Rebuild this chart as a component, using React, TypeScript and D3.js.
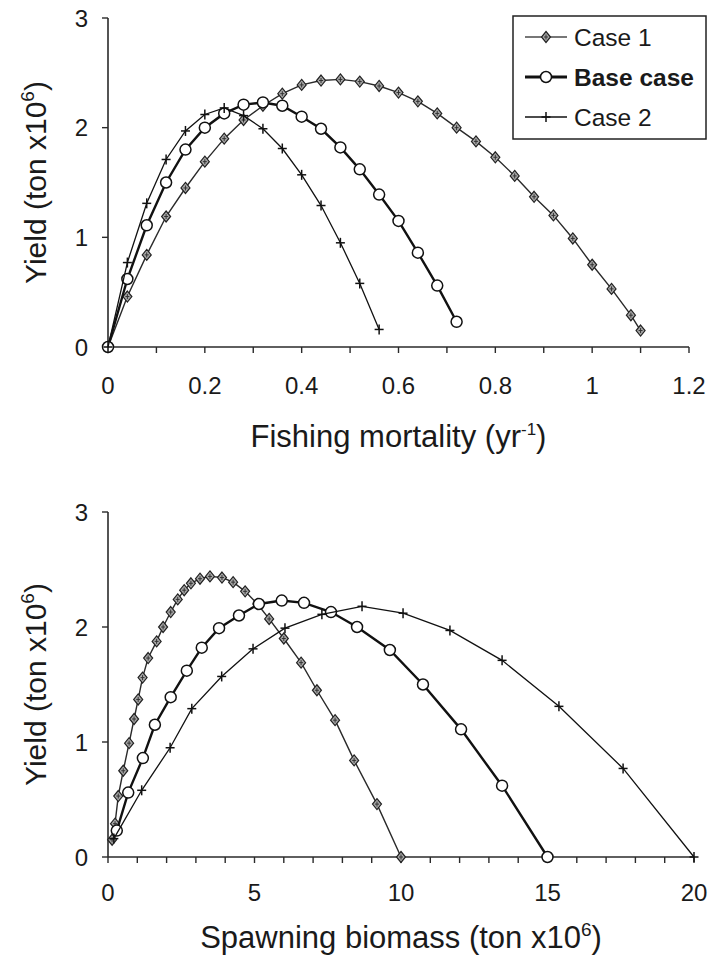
import React from "react";
import * as d3 from "d3";

// ---- Data ----
const fCase1 = [0, 0.04, 0.08, 0.12, 0.16, 0.2, 0.24, 0.28, 0.32, 0.36, 0.4, 0.44, 0.48, 0.52, 0.56, 0.6, 0.64, 0.68, 0.72, 0.76, 0.8, 0.84, 0.88, 0.92, 0.96, 1.0, 1.04, 1.08, 1.1];
const yieldCase1 = [0, 0.46, 0.84, 1.19, 1.45, 1.69, 1.9, 2.07, 2.2, 2.31, 2.39, 2.43, 2.44, 2.42, 2.38, 2.32, 2.24, 2.13, 2.0, 1.875, 1.73, 1.56, 1.37, 1.2, 0.99, 0.75, 0.53, 0.29, 0.15];
const biomassCase1 = [10, 9.18, 8.4, 7.75, 7.13, 6.59, 6.0, 5.5, 5.1, 4.68, 4.27, 3.89, 3.48, 3.14, 2.83, 2.6, 2.38, 2.14, 1.88, 1.66, 1.37, 1.18, 1.03, 0.89, 0.72, 0.52, 0.35, 0.24, 0.14];

const fBase = [0, 0.04, 0.08, 0.12, 0.16, 0.2, 0.24, 0.28, 0.32, 0.36, 0.4, 0.44, 0.48, 0.52, 0.56, 0.6, 0.64, 0.68, 0.72];
const yieldBase = [0, 0.62, 1.11, 1.5, 1.8, 2.0, 2.13, 2.21, 2.23, 2.2, 2.1, 1.99, 1.82, 1.62, 1.39, 1.15, 0.86, 0.56, 0.23];
const biomassBase = [15, 13.45, 12.05, 10.75, 9.62, 8.5, 7.61, 6.69, 5.93, 5.15, 4.47, 3.79, 3.2, 2.69, 2.14, 1.6, 1.19, 0.69, 0.3];

const fCase2 = [0, 0.04, 0.08, 0.12, 0.16, 0.2, 0.24, 0.28, 0.32, 0.36, 0.4, 0.44, 0.48, 0.52, 0.56];
const yieldCase2 = [0, 0.77, 1.31, 1.71, 1.97, 2.12, 2.18, 2.11, 1.99, 1.81, 1.57, 1.29, 0.95, 0.58, 0.16];
const biomassCase2 = [20, 17.58, 15.39, 13.45, 11.67, 10.07, 8.67, 7.3, 6.04, 4.95, 3.88, 2.86, 2.12, 1.15, 0.2];

const seriesNames = ["Case 1", "Base case", "Case 2"];
const yTicks = [0, 1, 2, 3];
const fTickLabels = [0, 0.2, 0.4, 0.6, 0.8, 1, 1.2];
const fMinorTicks = [0, 0.1, 0.2, 0.3, 0.4, 0.5, 0.6, 0.7, 0.8, 0.9, 1.0, 1.1, 1.2];
const bTickLabels = [0, 5, 10, 15, 20];
const bMinorTicks = [0, 1, 2, 3, 4, 5, 6, 7, 8, 9, 10, 11, 12, 13, 14, 15, 16, 17, 18, 19, 20];

const FONT = "'Liberation Sans', Arial, Helvetica, sans-serif";
const TEXT = "#1a1a1a";
const AXIS = "#2a2a2a";

type Kind = "diamond" | "circle" | "plus";

function Marker({ kind, x, y }: { kind: Kind; x: number; y: number }) {
  if (kind === "circle") {
    return <circle cx={x} cy={y} r={5.5} fill="#fff" stroke="#111" strokeWidth={1.5} />;
  }
  if (kind === "plus") {
    return (
      <g stroke="#111" strokeWidth={1.5}>
        <line x1={x - 4.5} y1={y} x2={x + 4.5} y2={y} />
        <line x1={x} y1={y - 5} x2={x} y2={y + 5} />
      </g>
    );
  }
  return (
    <g>
      <path d={`M${x},${y - 5.5}L${x + 4.5},${y}L${x},${y + 5.5}L${x - 4.5},${y}Z`} fill="#a8a8a8" stroke="#222" strokeWidth={1.2} />
      <path d={`M${x - 2},${y}L${x + 2},${y}M${x},${y - 2.5}L${x},${y + 2.5}`} stroke="#333" strokeWidth={1} />
    </g>
  );
}

type Series = { xs: number[]; ys: number[]; kind: Kind; stroke: string; width: number };

function Panel({
  series,
  xScale,
  yScale,
  xLabels,
  xMinor,
  xFmt,
  title,
  titleY,
  tickLabelY,
}: {
  series: Series[];
  xScale: d3.ScaleLinear<number, number>;
  yScale: d3.ScaleLinear<number, number>;
  xLabels: number[];
  xMinor: number[];
  xFmt: (v: number) => string;
  title: React.ReactNode;
  titleY: number;
  tickLabelY: number;
}) {
  const [x0, x1] = xScale.range();
  const [y0, y1] = yScale.range();
  const line = d3
    .line<[number, number]>()
    .x((d) => xScale(d[0]))
    .y((d) => yScale(d[1]));
  const yTitleCenter = (y0 + y1) / 2;
  return (
    <g>
      {/* axes */}
      <line x1={x0} y1={y0} x2={x1} y2={y0} stroke={AXIS} strokeWidth={1.6} />
      <line x1={x0} y1={y0} x2={x0} y2={y1} stroke={AXIS} strokeWidth={1.6} />
      {xMinor.map((v) => (
        <line key={"xm" + v} x1={xScale(v)} x2={xScale(v)} y1={y0} y2={y0 + 6} stroke={AXIS} strokeWidth={1.4} />
      ))}
      {xLabels.map((v) => (
        <text key={"xl" + v} x={xScale(v)} y={tickLabelY} textAnchor="middle" dominantBaseline="central" fontSize={24} fill={TEXT}>
          {xFmt(v)}
        </text>
      ))}
      {yTicks.map((v) => (
        <g key={"yt" + v}>
          <line x1={x0 - 6} x2={x0} y1={yScale(v)} y2={yScale(v)} stroke={AXIS} strokeWidth={1.4} />
          <text x={88} y={yScale(v)} textAnchor="end" dominantBaseline="central" fontSize={24} fill={TEXT}>
            {v}
          </text>
        </g>
      ))}
      {/* y title */}
      <text transform={`translate(46,${yTitleCenter}) rotate(-90)`} textAnchor="middle" fontSize={30} fill={TEXT}>
        Yield (ton x10
        <tspan dy={-12} fontSize={19}>
          6
        </tspan>
        <tspan dy={12}>)</tspan>
      </text>
      {/* x title */}
      <text x={(x0 + x1) / 2} y={titleY} textAnchor="middle" fontSize={31} fill={TEXT}>
        {title}
      </text>
      {/* series */}
      {series.map((s, i) => {
        const pts: [number, number][] = s.xs.map((x, j) => [x, s.ys[j]]);
        return (
          <g key={"s" + i}>
            <path d={line(pts) || ""} fill="none" stroke={s.stroke} strokeWidth={s.width} />
            {pts.map((p, j) => (
              <Marker key={j} kind={s.kind} x={xScale(p[0])} y={yScale(p[1])} />
            ))}
          </g>
        );
      })}
    </g>
  );
}

export default function App() {
  const fScale = d3.scaleLinear().domain([0, 1.2]).range([108, 689]);
  const yTop = d3.scaleLinear().domain([0, 3]).range([347, 18]);
  const bScale = d3.scaleLinear().domain([0, 20]).range([108, 694]);
  const yBot = d3.scaleLinear().domain([0, 3]).range([857, 512]);

  const styles: { kind: Kind; stroke: string; width: number }[] = [
    { kind: "diamond", stroke: "#2a2a2a", width: 1.4 },
    { kind: "circle", stroke: "#111", width: 2.4 },
    { kind: "plus", stroke: "#111", width: 1.3 },
  ];

  const topSeries: Series[] = [
    { xs: fCase1, ys: yieldCase1, ...styles[0] },
    { xs: fBase, ys: yieldBase, ...styles[1] },
    { xs: fCase2, ys: yieldCase2, ...styles[2] },
  ];
  const botSeries: Series[] = [
    { xs: biomassCase1, ys: yieldCase1, ...styles[0] },
    { xs: biomassBase, ys: yieldBase, ...styles[1] },
    { xs: biomassCase2, ys: yieldCase2, ...styles[2] },
  ];

  const legendRowsY = [37, 77, 117];

  return (
    <svg
      width={712}
      height={963}
      style={{ position: "absolute", left: 0, top: 0, background: "#fff" }}
      fontFamily={FONT}
    >
      <rect x={0} y={0} width={712} height={963} fill="#fff" />
      <Panel
        series={topSeries}
        xScale={fScale}
        yScale={yTop}
        xLabels={fTickLabels}
        xMinor={fMinorTicks}
        xFmt={(v) => String(v)}
        tickLabelY={385}
        titleY={447}
        title={
          <>
            Fishing mortality (yr
            <tspan dy={-12} fontSize={17}>
              -1
            </tspan>
            <tspan dy={12}>)</tspan>
          </>
        }
      />
      <Panel
        series={botSeries}
        xScale={bScale}
        yScale={yBot}
        xLabels={bTickLabels}
        xMinor={bMinorTicks}
        xFmt={(v) => String(v)}
        tickLabelY={892}
        titleY={948}
        title={
          <>
            Spawning biomass (ton x10
            <tspan dy={-12} fontSize={19}>
              6
            </tspan>
            <tspan dy={12}>)</tspan>
          </>
        }
      />
      {/* legend */}
      <g>
        <rect x={513} y={16} width={193} height={123} fill="#fff" stroke="#222" strokeWidth={1.5} />
        {seriesNames.map((name, i) => {
          const y = legendRowsY[i];
          const st = styles[i];
          return (
            <g key={name}>
              <line x1={525} x2={567} y1={y} y2={y} stroke={i === 0 ? "#777" : "#111"} strokeWidth={i === 1 ? 3 : i === 0 ? 2 : 1.5} />
              <Marker kind={st.kind} x={546} y={y} />
              <text x={574} y={y} dominantBaseline="central" fontSize={24.5} fontWeight={i === 1 ? "bold" : "normal"} fill={TEXT}>
                {name}
              </text>
            </g>
          );
        })}
      </g>
    </svg>
  );
}
